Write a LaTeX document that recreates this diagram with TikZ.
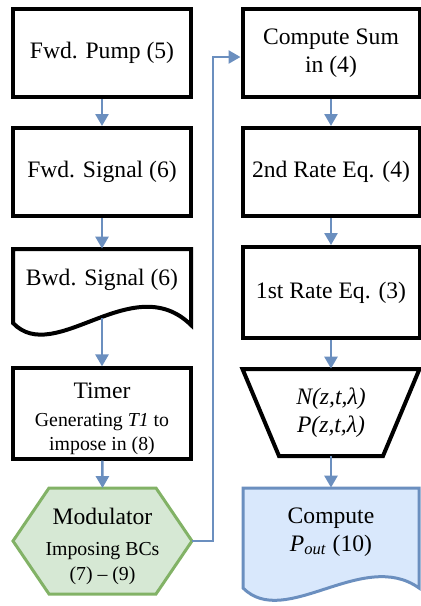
\documentclass[tikz,border=0pt]{standalone}
\usepackage{fontspec}
\setmainfont{Liberation Serif}
\usetikzlibrary{arrows.meta}
\definecolor{flowcol}{rgb}{0.42, 0.56, 0.75}
\definecolor{modfill}{rgb}{0.84, 0.91, 0.83}
\definecolor{moddraw}{rgb}{0.51, 0.70, 0.40}
\definecolor{outfill}{rgb}{0.85, 0.91, 0.99}
\newcommand{\mainsize}{\fontsize{11.8pt}{14pt}\selectfont}
\newcommand{\subsize}{\fontsize{9.9pt}{12pt}\selectfont}
\tikzset{
  proc block/.style={rectangle, draw=black, line width=2pt,
                     minimum width=89pt, minimum height=44pt,
                     inner sep=2pt, align=center, font=\mainsize},
  right block/.style={proc block, minimum width=88.5pt},
  shape label/.style={rectangle, minimum width=89pt, inner sep=2pt,
                      align=center, font=\mainsize},
  outline/.style={draw=black, line width=2pt, line join=miter},
  mod shape/.style={draw=moddraw, fill=modfill, line width=1.5pt},
  out shape/.style={draw=flowcol, fill=outfill, line width=1.5pt},
  flow arr/.style={-{Triangle[length=6pt, width=6.5pt]}, line width=1.3pt, flowcol},
}
\begin{document}
\begin{tikzpicture}[x=0.5pt, y=-0.5pt]
    \useasboundingbox (0,0) rectangle (420,606);

    % left column
    \node[proc block] (pump) at (102,53) {Fwd. Pump (5)};
    \node[proc block] (fwdsig) at (102,172) {Fwd. Signal (6)};
    \draw[outline] (13,249) -- (191,249) -- (191,325)
        .. controls (133,268) and (55,367) .. (13,323) -- cycle;
    \node[shape label, minimum height=31pt] (bwdsig) at (102,280) {Bwd. Signal (6)};
    \coordinate (bwdtail) at (102,318);
    \node[proc block, minimum height=44.5pt] (timer) at (102,413.5)
        {\rule{0pt}{13pt}Timer\\{\subsize Generating \textit{T1} to}\\[-2pt]{\subsize impose in (8)}};
    \draw[mod shape] (13,541) -- (49,488) -- (156,488) -- (192,541)
        -- (156,594) -- (49,594) -- cycle;
    \node[shape label, minimum height=52.5pt] (mod) at (102.5,541)
        {\rule{0pt}{14pt}Modulator\\[1.5pt]{\subsize Imposing BCs}\\[-1.5pt]{\subsize (7) -- (9)}};

    % right column
    \node[right block] (sum) at (331,53) {Compute Sum\\in (4)};
    \node[right block] (rate2) at (331,172) {2nd Rate Eq. (4)};
    \node[right block, minimum height=45.5pt] (rate1) at (331,292.5) {1st Rate Eq. (3)};
    \draw[outline] (242.5,369) -- (419.5,369) -- (383,456) -- (279,456) -- cycle;
    \node[shape label, minimum height=43.5pt] (nP) at (331,412.5)
        {\textit{N(z,t,λ)}\\\textit{P(z,t,λ)}};
    \draw[out shape] (243,488) -- (419,488) -- (419,588)
        .. controls (363,548) and (285,630) .. (243,588) -- cycle;
    \node[shape label, minimum height=44pt] (pout) at (331,532)
        {Compute\\\textit{P}\textsubscript{\textit{out}} (10)};

    \draw[flow arr] (pump) -- (fwdsig);
    \draw[flow arr] (fwdsig) -- (bwdsig);
    \draw[flow arr] (bwdtail) -- (timer);
    \draw[flow arr] (timer) -- (mod.north);
    \draw[flow arr] (mod.east) -- ++(21,0) |- ([yshift=-2pt]sum.west);
    \draw[flow arr] (sum) -- (rate2);
    \draw[flow arr] (rate2) -- (rate1);
    \draw[flow arr] (rate1) -- (nP);
    \draw[flow arr] (nP) -- (pout);
\end{tikzpicture}
\end{document}
